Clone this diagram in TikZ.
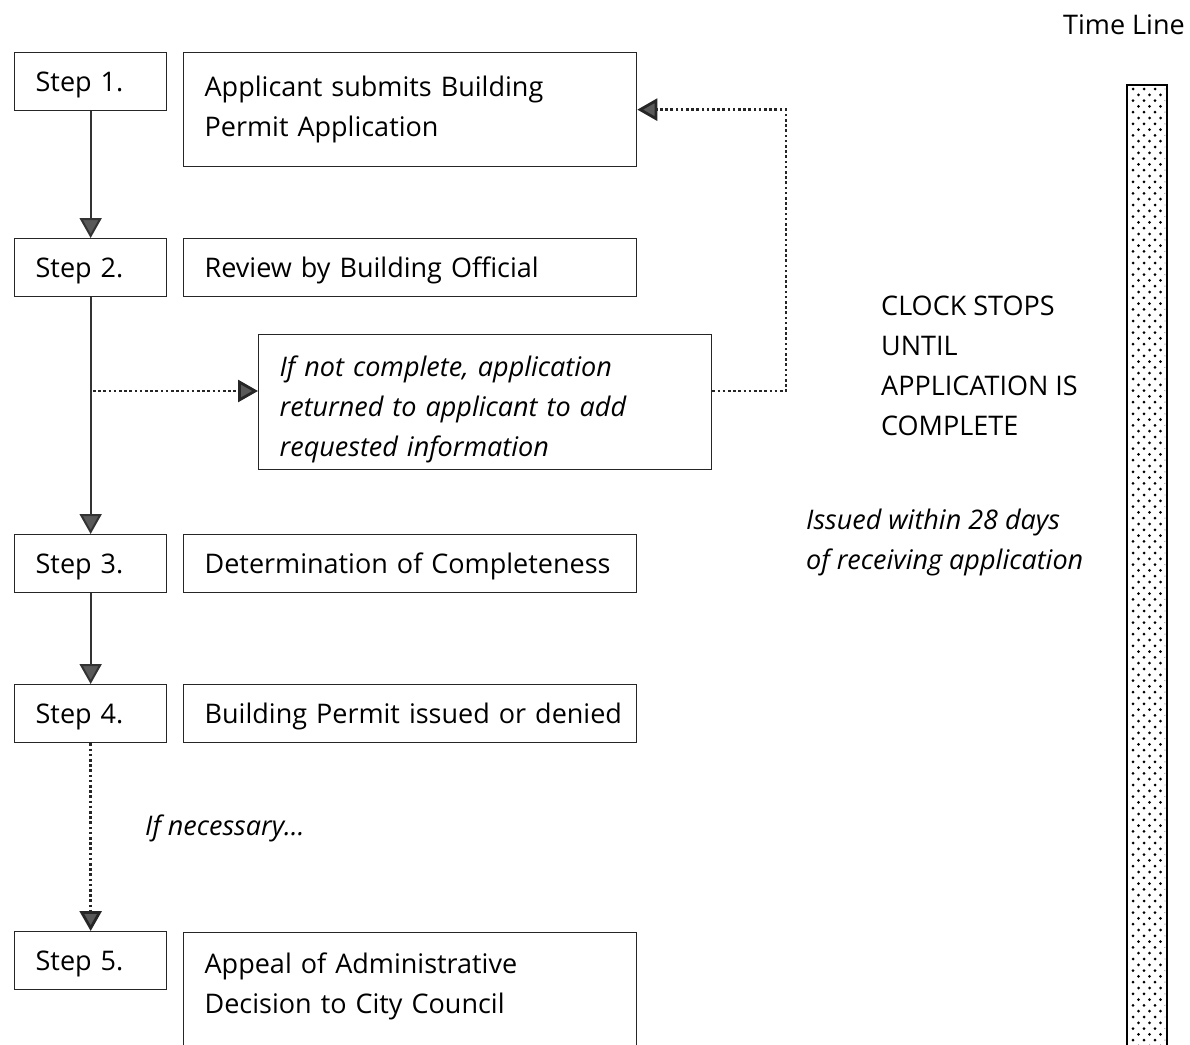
\documentclass[tikz,border=0pt]{standalone}
\usepackage{fontspec}
\setmainfont{Open Sans}
\usetikzlibrary{arrows.meta}
\tikzset{
  boxstyle/.style={draw=black!85, line width=1.3pt, anchor=north west, inner xsep=21pt, inner ysep=0pt, align=left, font=\fontsize{27}{40}\selectfont},
  onebox/.style={boxstyle, minimum height=58pt, text depth=0pt},
  plaintext/.style={anchor=west, inner sep=0pt, align=left, font=\fontsize{27}{40}\selectfont},
  solidarrow/.style={draw=black!80, line width=2pt, -{Triangle[width=22pt,length=20pt,fill=black!65]}},
  dotarrow/.style={draw=black!85, line width=2.8pt, dash pattern=on 2.6pt off 2.6pt, -{Triangle[width=22pt,length=20pt,fill=black!65]}}
}
\begin{document}
\begin{tikzpicture}[x=1pt,y=-1pt]
\useasboundingbox (0,0) rectangle (1190,1044);
\clip (0,0) rectangle (1190,1044);
% step boxes
\node[onebox, minimum width=152pt, text width=110pt] (s1) at (14,52) {Step 1.};
\node[onebox, minimum width=152pt, text width=110pt] (s2) at (14,238) {Step 2.};
\node[onebox, minimum width=152pt, text width=110pt] (s3) at (14,534) {Step 3.};
\node[onebox, minimum width=152pt, text width=110pt] (s4) at (14,684) {Step 4.};
\node[onebox, minimum width=152pt, text width=110pt] (s5) at (14,931) {Step 5.};
% description boxes
\node[boxstyle, minimum width=453pt, minimum height=114pt, text width=411pt] (a1) at (183,52) {Applicant submits Building\\Permit Application};
\node[onebox, minimum width=453pt, text width=411pt] (a2) at (183,238) {Review by Building Official};
\node[boxstyle, minimum width=453pt, minimum height=135pt, text width=411pt, text depth=72.5pt, font=\fontsize{27}{40}\selectfont\itshape] (ret) at (258,334) {If not complete, application\\returned to applicant to add\\requested information};
\node[onebox, minimum width=453pt, text width=411pt] (a3) at (183,534) {Determination of Completeness};
\node[onebox, minimum width=453pt, text width=411pt] (a4) at (183,684) {\mbox{Building Permit issued or denied}};
\node[boxstyle, minimum width=453pt, minimum height=142pt, text width=411pt] (a5) at (183,932) {Appeal of Administrative\\Decision to City Council\\\mbox{}};
% texts
\node[plaintext, anchor=east] (tl) at (1185,25) {Time Line};
\node[plaintext, anchor=north west] (clock) at (881,296) {CLOCK STOPS\\UNTIL\\APPLICATION IS\\COMPLETE};
\node[plaintext, anchor=north west, font=\fontsize{27}{40}\selectfont\itshape] (issued) at (806,509) {Issued within 28 days\\of receiving application};
\node[plaintext, font=\fontsize{27}{40}\selectfont\itshape] (nec) at (145,828) {If necessary\dots};
% timeline bar
\node[draw=black, line width=2pt, fill=white, minimum width=40pt, minimum height=1000pt, anchor=north west, inner sep=0pt] (bar) at (1126,84) {};
\begin{scope}
\clip (1127,85) rectangle (1165,1044);
\foreach \r in {0,...,165} {
  \pgfmathsetmacro{\yy}{89+\r*5.8}
  \pgfmathsetmacro{\off}{mod(\r,2)*5.5}
  \foreach \c in {0,...,3} {
    \fill[black] ({1133+\off+\c*11},\yy) circle (1.5pt);
  }
}
\end{scope}
% connectors
\coordinate (j2) at (90,391);
\coordinate (rx) at (786,0);
\draw[solidarrow] (s1.south) -- (s2.north);
\draw[solidarrow] (s2.south) -- (s3.north);
\draw[solidarrow] (s3.south) -- (s4.north);
\draw[dotarrow] (s4.south) -- (s5.north);
\draw[dotarrow] ([xshift=3pt]j2) -- (ret.west |- j2);
\draw[dotarrow] (ret.east |- j2) -| (rx |- a1.east) -- (a1.east);
\end{tikzpicture}
\end{document}
